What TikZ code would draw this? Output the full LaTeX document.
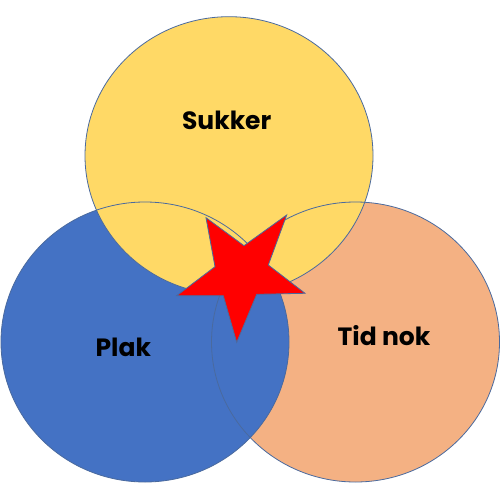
\documentclass[tikz,border=0pt]{standalone}
\usepackage{fontspec}
\setmainfont{Poppins}
\definecolor{ygold}{HTML}{FFD966}
\definecolor{pblue}{HTML}{4472C4}
\definecolor{torange}{HTML}{F4B183}
\definecolor{edgeblue}{HTML}{4A6A9E}
\definecolor{starred}{HTML}{FF0000}
\tikzset{
  ring/.style={draw=edgeblue, line width=0.8pt},
  lbl/.style={font=\bfseries\fontsize{25}{30}\selectfont, text=black, inner sep=0pt},
}
\begin{document}
\begin{tikzpicture}[x=1pt,y=-1pt]
\useasboundingbox (0,0) rectangle (500,500);
\fill[white] (0,0) rectangle (500,500);
% fills
\fill[torange] (355.5,342) ellipse [x radius=144, y radius=140];
\fill[pblue] (145,342) ellipse [x radius=144, y radius=140];
\fill[ygold] (229,155.7) ellipse [x radius=144, y radius=139];
% outlines on top
\draw[ring] (355.5,342) ellipse [x radius=144, y radius=140];
\draw[ring] (145,342) ellipse [x radius=144, y radius=140];
\draw[ring] (229,155.7) ellipse [x radius=144, y radius=139];
% star
\draw[fill=starred, draw=edgeblue, line width=0.8pt, line join=miter]
  (206,217.7) -- (244,245.7) -- (286.7,215) -- (268.3,265) -- (305,293.3)
  -- (256.7,294.3) -- (236.7,342.3) -- (223.3,295.7) -- (176.7,295.7)
  -- (215,266.7) -- cycle;
% labels
\node[lbl] (sukker) at (226.7,120) {Sukker};
\node[lbl] (plak) at (123.3,347) {Plak};
\node[lbl] (tidnok) at (384,336) {Tid nok};
\end{tikzpicture}
\end{document}
